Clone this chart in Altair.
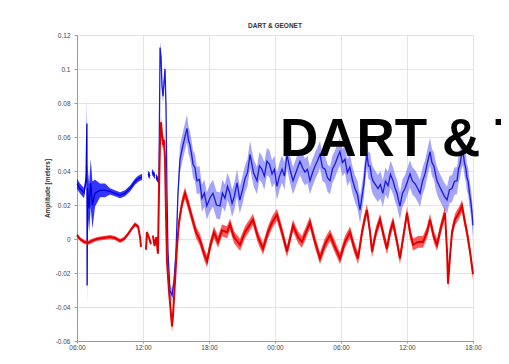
import altair as alt
import pandas as pd

# ---------------- data ----------------
title_text = "DART & GEONET"
y_title = "Amplitude [meters]"
overlay_text = "DART & T"

x_tick_hours = [0, 6, 12, 18, 24, 30, 36]
x_tick_labels = ["06:00", "12:00", "18:00", "00:00", "06:00", "12:00", "18:00"]
y_ticks = [-0.06, -0.04, -0.02, 0, 0.02, 0.04, 0.06, 0.08, 0.1, 0.12]
y_tick_labels = ["-0.06", "-0.04", "-0.02", "0", "0.02", "0.04", "0.06", "0.08", "0.1", "0.12"]

# DART (blue): hours since 06:00, amplitude [m], segment id (gaps between segments)
blue_h = [0.00, 0.27, 0.64, 0.82, 0.90, 0.92, 0.95, 1.10, 1.25, 1.40, 1.64, 2.09, 2.55, 3.00,
          3.45, 3.91, 4.36, 4.82, 5.27, 5.55, 5.91,
          6.45, 6.64,
          6.82, 7.09,
          7.18, 7.36, 7.45, 7.55, 7.64, 7.73, 7.82, 8.00, 8.09, 8.18, 8.27, 8.45, 8.64, 8.82,
          9.00, 9.18, 9.36, 9.64, 10.00, 10.14, 10.27, 10.41, 10.55, 10.72, 10.90, 11.13,
          11.36, 11.58, 11.80, 12.08, 12.36, 12.68, 13.00, 13.22, 13.45, 13.68, 13.90, 14.10,
          14.30, 14.55, 14.80, 15.05, 15.27, 15.50, 15.73, 16.05, 16.36, 16.58, 16.80, 17.03,
          17.27, 17.50, 17.73, 17.95, 18.18, 18.41, 18.64, 18.86, 19.09, 19.36, 19.64, 19.95,
          20.27, 20.50, 20.73, 20.95, 21.18, 21.41, 21.64, 21.86, 22.09, 22.32, 22.55, 22.77,
          23.00, 23.22, 23.45, 23.68, 23.90, 24.13, 24.36, 24.58, 24.80, 25.03, 25.27, 25.50,
          25.73, 25.91, 26.09, 26.22, 26.36, 26.50, 26.64, 26.77, 26.90, 27.13, 27.36, 27.58,
          27.80, 28.04, 28.27, 28.50, 28.73, 28.91, 29.09, 29.22, 29.36, 29.59, 29.82, 30.05,
          30.27, 30.50, 30.73, 30.95, 31.18, 31.41, 31.64, 31.86, 32.09, 32.27, 32.45, 32.59,
          32.73, 32.95, 33.18, 33.41, 33.64, 33.86, 34.09, 34.32, 34.55, 34.68, 34.82, 34.95,
          35.09, 35.22, 35.36, 35.45, 35.55, 35.68, 35.82, 35.91, 36.00]
blue_v = [0.0326, 0.0297, 0.0270, 0.0350, 0.0680, -0.0274, 0.0300, 0.0180, 0.0330, 0.0200,
          0.0269, 0.0286, 0.0286, 0.0280, 0.0269, 0.0257, 0.0269, 0.0297, 0.0337, 0.0354, 0.0366,
          0.0383, 0.0371,
          0.0394, 0.0371,
          0.0366, 0.0349, 0.0326, 0.1126, 0.1069, 0.0897, 0.0840, 0.1000, 0.0783, 0.0269,
          -0.0074, -0.0303, -0.0330, -0.0250, -0.0074, 0.0269, 0.0469, 0.0554, 0.0651, 0.0580,
          0.0554, 0.0500, 0.0440, 0.0420, 0.0343, 0.0350, 0.0240, 0.0270, 0.0194, 0.0240,
          0.0269, 0.0200, 0.0194, 0.0270, 0.0240, 0.0310, 0.0269, 0.0210, 0.0250, 0.0330,
          0.0229, 0.0290, 0.0354, 0.0390, 0.0497, 0.0390, 0.0343, 0.0430, 0.0411, 0.0370,
          0.0457, 0.0440, 0.0383, 0.0410, 0.0309, 0.0370, 0.0411, 0.0370, 0.0497, 0.0410,
          0.0343, 0.0400, 0.0457, 0.0420, 0.0394, 0.0410, 0.0343, 0.0390, 0.0429, 0.0460,
          0.0497, 0.0420, 0.0411, 0.0360, 0.0343, 0.0410, 0.0440, 0.0480, 0.0514, 0.0450,
          0.0469, 0.0390, 0.0423, 0.0350, 0.0297, 0.0260, 0.0171, 0.0250, 0.0326, 0.0430,
          0.0497, 0.0430, 0.0429, 0.0370, 0.0343, 0.0320, 0.0297, 0.0320, 0.0269, 0.0340,
          0.0314, 0.0380, 0.0343, 0.0300, 0.0269, 0.0230, 0.0194, 0.0270, 0.0297, 0.0340,
          0.0383, 0.0340, 0.0326, 0.0300, 0.0269, 0.0340, 0.0383, 0.0450, 0.0514, 0.0450,
          0.0429, 0.0380, 0.0343, 0.0310, 0.0280, 0.0250, 0.0229, 0.0290, 0.0297, 0.0340,
          0.0343, 0.0410, 0.0440, 0.0490, 0.0514, 0.0450, 0.0411, 0.0360, 0.0343, 0.0270,
          0.0211, 0.0150, 0.0080]
blue_seg = [0] * 21 + [1] * 2 + [2] * 2 + [3] * 158

# Tide gauge / model (red)
red_h = [0.00, 0.27, 0.64, 1.00, 1.36, 1.82, 2.36, 3.00, 3.45, 3.91, 4.27, 4.64, 5.00, 5.27,
         5.55, 5.73, 5.82,
         6.27, 6.36, 6.55, 6.73,
         6.90, 7.05, 7.20, 7.36, 7.45, 7.55, 7.64, 7.73, 7.82, 7.91, 8.00, 8.09, 8.18, 8.36,
         8.55, 8.64, 8.73, 8.91, 9.09, 9.27, 9.55, 9.82, 10.09, 10.45, 10.82, 11.18, 11.55,
         11.82, 12.09, 12.45, 12.82, 13.18, 13.64, 13.91, 14.27, 14.82, 15.27, 15.73, 16.00,
         16.45, 16.91, 17.36, 17.73, 18.18, 18.64, 19.09, 19.64, 20.09, 20.45, 20.82, 21.18,
         21.64, 22.09, 22.55, 23.00, 23.45, 23.91, 24.36, 24.82, 25.18, 25.55, 25.91, 26.18,
         26.36, 26.64, 26.82, 27.18, 27.55, 27.91, 28.18, 28.45, 28.73, 29.09, 29.36, 29.73,
         30.00, 30.27, 30.55, 31.00, 31.45, 31.82, 32.09, 32.45, 32.73, 33.09, 33.45, 33.64,
         33.73, 33.91, 34.09, 34.36, 34.73, 35.00, 35.27, 35.45, 35.73, 36.00]
red_v = [0.0023, 0.0000, -0.0017, -0.0023, -0.0011, 0.0000, 0.0006, 0.0011, 0.0006, -0.0011,
         0.0000, 0.0029, 0.0063, 0.0086, 0.0074, 0.0011, -0.0046,
         -0.0063, 0.0040, 0.0006, -0.0029,
         0.0020, -0.0040, 0.0010, -0.0086, 0.0269, 0.0583, 0.0686, 0.0611, 0.0554, 0.0583,
         0.0469, 0.0154, -0.0131, -0.0303, -0.0446, -0.0514, -0.0446, -0.0246, -0.0046, 0.0097,
         0.0211, 0.0269, 0.0211, 0.0126, 0.0040, -0.0006, -0.0086, -0.0131, -0.0046, 0.0040,
         -0.0017, 0.0051, 0.0040, 0.0086, 0.0011, -0.0034, 0.0040, 0.0086, 0.0114, 0.0011,
         -0.0057, 0.0040, 0.0097, 0.0143, 0.0040, -0.0074, 0.0080, 0.0011, -0.0017, 0.0040,
         0.0097, -0.0017, -0.0114, -0.0029, 0.0023, -0.0046, -0.0114, -0.0017, 0.0040, -0.0046,
         -0.0114, 0.0040, 0.0126, 0.0171, 0.0040, -0.0074, 0.0040, 0.0114, 0.0011, -0.0057,
         0.0040, 0.0097, -0.0017, -0.0114, 0.0040, 0.0154, 0.0040, -0.0034, -0.0017, -0.0017,
         0.0040, 0.0114, 0.0011, -0.0034, 0.0069, 0.0154, -0.0074, -0.0263, -0.0103, 0.0040,
         0.0114, 0.0154, 0.0194, 0.0097, 0.0040, -0.0074, -0.0206]
red_seg = [0] * 17 + [1] * 4 + [2] * 98

# noise envelope half-widths (upper time limit, half-width)
blue_noise = [(0.85, 0.003), (1.5, 0.014), (2.0, 0.008), (2.6, 0.004), (7.45, 0.0018),
              (9.2, 0.004), (36.1, 0.008)]
red_noise = [(7.4, 0.0012), (36.1, 0.0035)]
quake_hour = 7.45


def build(hs, vs, segs, noise):
    rows = []
    for h, v, s in zip(hs, vs, segs):
        hw = next(w for lim, w in noise if h <= lim)
        rows.append({"h": h, "v": v, "lo": v - hw, "hi": v + hw, "seg": s})
    return pd.DataFrame(rows)


blue_df = build(blue_h, blue_v, blue_seg, blue_noise)
red_df = build(red_h, red_v, red_seg, red_noise)
# the pre-event DART trace is drawn darker than the noisy post-event trace
blue_pre = blue_df[blue_df.h <= quake_hour]
blue_post = blue_df[blue_df.h >= quake_hour]

# ---------------- chart ----------------
def js_list(items):
    return "[" + ",".join("'%s'" % s for s in items) + "]"


x_expr = js_list(x_tick_labels) + "[round(datum.value/6)]"
y_expr = js_list(y_tick_labels) + "[round((datum.value+0.06)/0.02)]"

x_axis = alt.Axis(values=x_tick_hours, labelExpr=x_expr, title=None, grid=True,
                  labelFontSize=6.5, labelPadding=1, tickSize=2, labelFlush=False,
                  labelOverlap=False)
y_axis = alt.Axis(values=y_ticks, labelExpr=y_expr, title=y_title, grid=True,
                  labelFontSize=6.5, labelPadding=4, tickSize=3, labelFlush=False,
                  labelOverlap=False,
                  titleFontSize=6.5, titleFontWeight="bold", titleColor="#333",
                  titlePadding=5)
xs = alt.Scale(domain=[0, 36], nice=False, zero=False)
ys = alt.Scale(domain=[-0.06, 0.12], nice=False, zero=False)


def band(df, color, op):
    return alt.Chart(df).mark_area(color=color, opacity=op).encode(
        x=alt.X("h:Q", scale=xs, axis=x_axis),
        y=alt.Y("lo:Q", scale=ys, axis=y_axis),
        y2="hi:Q",
        detail="seg:N",
    )


def line(df, color, w):
    return alt.Chart(df).mark_line(color=color, strokeWidth=w).encode(
        x=alt.X("h:Q", scale=xs, axis=x_axis),
        y=alt.Y("v:Q", scale=ys, axis=y_axis),
        detail="seg:N",
    )


overlay = alt.Chart(pd.DataFrame({"t": [overlay_text]})).mark_text(
    align="left", baseline="alphabetic", font="Liberation Sans", fontWeight="bold",
    fontSize=53, color="#000000"
).encode(x=alt.value(203), y=alt.value(121), text="t:N")

chart = alt.layer(
    band(blue_pre, "#1010ff", 0.85),
    line(blue_pre, "#0000d0", 1.3),
    band(blue_post, "#5a5af5", 0.55),
    line(blue_post, "#1a1ae0", 1.3),
    band(red_df, "#ff2020", 0.75),
    line(red_df, "#e00000", 2.0),
    overlay,
).properties(
    width=396, height=306,
    autosize=alt.AutoSizeParams(type="none"),
    padding={"left": 69, "top": 27, "right": 28, "bottom": 10},
    title=alt.TitleParams(title_text, fontSize=6.5, fontWeight="bold", color="#333",
                          font="Liberation Sans", offset=3),
    background="white",
).configure_view(
    stroke="#9a9a9a", strokeWidth=1
).configure_axis(
    domainColor="#9a9a9a", tickColor="#9a9a9a", gridColor="#e4e4e4",
    labelColor="#444", labelFont="Liberation Sans", titleFont="Liberation Sans"
)

chart.save("out.html", embed_options={"renderer": "svg", "actions": False})
